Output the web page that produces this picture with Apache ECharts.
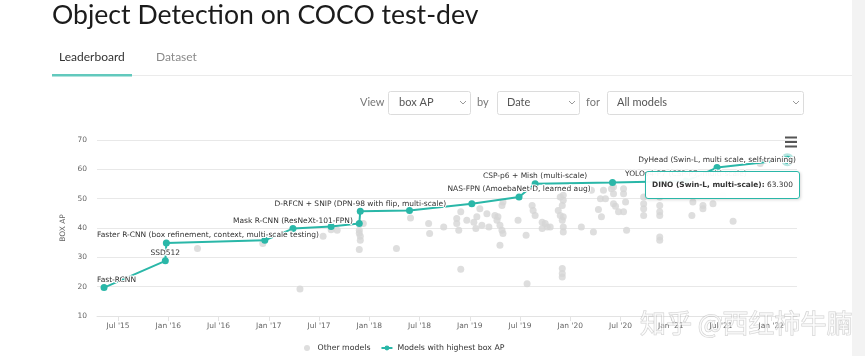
<!DOCTYPE html>
<html>
<head>
<meta charset="utf-8">
<script src="https://cdn.jsdelivr.net/npm/echarts@6/dist/echarts.min.js"></script>
<style>
html,body{margin:0;padding:0;background:#fff;}
#c{width:865px;height:356px;}
</style>
</head>
<body>
<div id="c"></div>
<script>
// ---- data (decimal year, box AP) ----
const bestNames = [
  "Fast-RCNN",
  "SSD512",
  "Faster R-CNN (box refinement, context, multi-scale testing)",
  "",
  "Mask R-CNN (ResNeXt-101-FPN)",
  "",
  "",
  "D-RFCN + SNIP (DPN-98 with flip, multi-scale)",
  "",
  "",
  "NAS-FPN (AmoebaNet-D, learned aug)",
  "CSP-p6 + Mish (multi-scale)",
  "",
  "YOLOv4-P7 (CSP-P7, multi-scale)",
  "DyHead (Swin-L, multi scale, self-training)",
  "DINO (Swin-L, multi-scale)"
];
const bestDates = [2015.36, 2015.97, 2015.98, 2016.96, 2017.24, 2017.62, 2017.90, 2017.91, 2018.40, 2019.02, 2019.49, 2019.65, 2020.42, 2021.15, 2021.46, 2022.16];
const bestAP    = [19.7, 28.8, 34.9, 35.8, 39.8, 40.5, 41.5, 45.7, 46.0, 48.3, 50.6, 55.1, 55.5, 56.0, 60.6, 63.3];

const otherDates = [
  2016.29, 2016.94, 2017.31, 2017.54, 2017.62, 2017.68,
  2017.90, 2017.90, 2017.91, 2017.91, 2017.90, 2017.94, 2018.27, 2018.41, 2018.59, 2018.60,
  2018.74, 2018.87, 2018.91, 2018.87, 2018.89, 2018.91, 2018.97, 2019.04, 2019.07, 2019.10,
  2019.17, 2019.12, 2019.19, 2019.25, 2019.27, 2019.30, 2019.28, 2019.32, 2019.33, 2019.30,
  2019.32, 2019.33, 2019.48, 2019.57, 2019.62, 2019.63, 2019.65, 2019.72, 2019.75, 2019.72,
  2019.80, 2019.88, 2019.90, 2019.92, 2019.93, 2019.93, 2019.92, 2019.93, 2019.93, 2019.92,
  2019.92, 2019.92, 2020.11, 2020.23, 2020.21, 2020.30, 2020.35, 2020.31, 2020.41, 2020.43,
  2020.43, 2020.45, 2020.48, 2020.53, 2020.53, 2020.55, 2020.53, 2020.56, 2020.28, 2020.33,
  2020.73, 2020.73, 2020.73, 2020.73, 2020.89, 2020.89, 2020.89, 2020.89, 2020.89, 2020.89,
  2021.22, 2021.21, 2021.32, 2021.32, 2021.52, 2021.62, 2021.42, 2021.89,
  2019.06, 2019.56, 2019.77, 2019.90, 2019.93, 2020.43
];
const otherAP = [
  33.0, 34.7, 19.2, 37.2, 39.4, 39.2,
  39.2, 38.2, 37.2, 35.8, 32.7, 41.5, 33.0, 43.4, 41.5, 38.1,
  40.3, 43.2, 45.5, 41.5, 39.2, 25.9, 42.6, 42.0, 43.8, 46.6,
  44.9, 40.9, 40.3, 44.3, 42.6, 40.9, 43.8, 39.2, 38.1, 34.1,
  47.7, 48.9, 42.6, 21.0, 47.7, 46.0, 44.3, 42.0, 41.5, 39.8,
  40.3, 46.0, 44.3, 47.7, 51.2, 49.5, 42.6, 40.3, 38.6, 26.2,
  24.5, 23.3, 40.3, 38.6, 52.9, 50.0, 50.0, 43.8, 53.4, 51.7,
  48.3, 47.4, 45.5, 53.4, 51.7, 48.9, 45.5, 39.2, 46.3, 52.9,
  50.6, 48.3, 46.6, 44.3, 50.6, 47.7, 45.5, 44.3, 36.9, 35.8,
  48.9, 44.3, 47.7, 46.6, 51.2, 42.3, 48.3, 62.0,
  39.8, 37.5, 40.3, 50.6, 43.8, 54.0
];

const tickValues = [2015.5, 2016, 2016.5, 2017, 2017.5, 2018, 2018.5, 2019, 2019.5, 2020, 2020.5, 2021, 2021.5, 2022];
const tickLabels = ["Jul '15", "Jan '16", "Jul '16", "Jan '17", "Jul '17", "Jan '18", "Jul '18", "Jan '19", "Jul '19", "Jan '20", "Jul '20", "Jan '21", "Jul '21", "Jan '22"];

const xMin = 2015.29, xMax = 2022.256;

// ---- build ----
const TEAL = '#2ab7a8';
const GRID_LEFT = 97;
const CF = '"DejaVu Sans", sans-serif';

const bestData = bestNames.map((n, i) => {
  const item = { name: n, value: [bestDates[i], bestAP[i]] };
  if (!n) item.label = { show: false };
  if (i === bestNames.length - 1) {
    item.label = { show: false };
    item.symbolSize = 8;
    item.itemStyle = { borderColor: 'rgba(42,183,168,0.35)', borderWidth: 5 };
  }
  return item;
});
const otherData = otherDates.map((d, i) => [d, otherAP[i]]);

const chart = echarts.init(document.getElementById('c'), null, { renderer: 'canvas' });

function txt(x, y, s, size, color, family, extra) {
  return {
    type: 'text', x: x, y: y, silent: true,
    style: Object.assign({ text: s, fontSize: size, fill: color, fontFamily: family, verticalAlign: 'middle', align: 'left' }, extra || {})
  };
}
function chevron(x, y) {
  return { type: 'polyline', silent: true, shape: { points: [[x, y], [x + 3, y + 3], [x + 6, y]] }, style: { stroke: '#999', lineWidth: 1, fill: null } };
}
function box(x, y, w, h) {
  return { type: 'rect', silent: true, shape: { x: x + 0.5, y: y + 0.5, width: w, height: h, r: 2 }, style: { fill: '#fff', stroke: '#dcdcdc', lineWidth: 1 } };
}

const LATO = 'Lato, sans-serif';
const graphics = [
  { type: 'rect', silent: true, shape: { x: 852, y: 0, width: 13, height: 356 }, style: { fill: '#f3f3f3' } },
  txt(52, 15, 'Object Detection on COCO test-dev', 26.6, '#1b1b1b', LATO),
  txt(59, 57, 'Leaderboard', 12, '#333', LATO),
  txt(156, 57, 'Dataset', 12, '#8a8a8a', LATO),
  { type: 'rect', silent: true, shape: { x: 52, y: 75, width: 800, height: 1 }, style: { fill: '#ebebeb' } },
  { type: 'rect', silent: true, shape: { x: 52, y: 74, width: 80, height: 2.5 }, style: { fill: '#62c9bd' } },
  txt(360, 102.5, 'View', 11, '#777', LATO),
  box(388, 91, 82, 23),
  txt(399, 102.5, 'box AP', 11, '#555', LATO),
  chevron(460, 101),
  txt(477, 102.5, 'by', 11, '#777', LATO),
  box(497, 91, 82, 23),
  txt(507, 102.5, 'Date', 11, '#555', LATO),
  chevron(569, 101),
  txt(586, 102.5, 'for', 11, '#777', LATO),
  box(607, 91, 196, 23),
  txt(617, 102.5, 'All models', 11, '#555', LATO),
  chevron(793, 101),
  { type: 'rect', silent: true, shape: { x: 785, y: 136.5, width: 12, height: 2 }, style: { fill: '#555' } },
  { type: 'rect', silent: true, shape: { x: 785, y: 141, width: 12, height: 2 }, style: { fill: '#555' } },
  { type: 'rect', silent: true, shape: { x: 785, y: 145.5, width: 12, height: 2 }, style: { fill: '#555' } },
  {
    type: 'text', silent: true, x: 640, y: 323, z: 100,
    style: {
      text: '知乎 @西红柿牛腩', fontSize: 26, fontFamily: '"Noto Sans CJK SC", sans-serif',
      fill: 'rgba(255,255,255,0.6)', stroke: 'rgba(120,120,120,0.35)', lineWidth: 1,
      verticalAlign: 'middle', align: 'left'
    }
  }
];

chart.setOption({
  animation: false,
  textStyle: { fontFamily: CF },
  grid: { left: GRID_LEFT, right: 68, top: 140, bottom: 40 },
  xAxis: {
    type: 'value', min: xMin, max: xMax,
    axisLine: { show: true, lineStyle: { color: '#e3e3e3' } },
    axisTick: { show: true, length: 5, customValues: tickValues, lineStyle: { color: '#e3e3e3' } },
    splitLine: { show: false },
    axisLabel: {
      customValues: tickValues, color: '#666', fontSize: 7.5, margin: 6, fontFamily: CF,
      formatter: v => { const k = tickValues.indexOf(v); return k >= 0 ? tickLabels[k] : ''; }
    }
  },
  yAxis: {
    type: 'value', min: 10, max: 70, interval: 10,
    name: 'BOX AP', nameLocation: 'middle', nameGap: 26,
    nameTextStyle: { color: '#666', fontSize: 7.5, fontFamily: CF },
    axisLine: { show: false }, axisTick: { show: false },
    axisLabel: { color: '#666', fontSize: 7.5, margin: 10, fontFamily: CF },
    splitLine: { lineStyle: { color: '#e8e8e8' } }
  },
  legend: {
    left: 304, top: 344, padding: 0, itemGap: 10, itemWidth: 11, itemHeight: 6,
    textStyle: { fontSize: 7.8, color: '#333', fontFamily: CF },
    data: ['Other models', 'Models with highest box AP']
  },
  tooltip: {
    trigger: 'item', triggerOn: 'none', alwaysShowContent: true, transitionDuration: 0,
    backgroundColor: 'rgba(255,255,255,0.95)', borderColor: TEAL, borderWidth: 1, borderRadius: 3,
    padding: [8, 6],
    textStyle: { fontSize: 7.4, color: '#333', fontFamily: CF, lineHeight: 10 },
    extraCssText: 'box-shadow: 1px 1px 3px rgba(0,0,0,0.15);',
    position: (point, params, dom, rect, size) => [point[0] - size.contentSize[0] + 13, point[1] + 11],
    formatter: p => '<b>' + p.name + ':</b> ' + Number(p.value[1]).toFixed(3)
  },
  series: [
    {
      name: 'Other models', type: 'scatter', data: otherData,
      symbolSize: 7, itemStyle: { color: '#d6d6d6' }, z: 2, silent: true
    },
    {
      name: 'Models with highest box AP', type: 'line', data: bestData,
      symbol: 'circle', symbolSize: 7, showSymbol: true,
      lineStyle: { color: TEAL, width: 2 }, itemStyle: { color: TEAL },
      z: 3,
      label: {
        show: true, position: 'top', distance: 0,
        formatter: p => p.name, color: '#333', fontSize: 7.5, fontFamily: CF,
        textBorderColor: '#fff', textBorderWidth: 2
      },
      labelLayout: params => {
        const r = params.labelRect;
        if (r && r.x < GRID_LEFT) {
          return { x: GRID_LEFT, y: r.y + r.height / 2, align: 'left', verticalAlign: 'middle' };
        }
      }
    }
  ],
  graphic: graphics
});

function showTip() {
  chart.dispatchAction({ type: 'showTip', seriesIndex: 1, dataIndex: bestAP.length - 1 });
}
showTip();
setTimeout(showTip, 0);
</script>
</body>
</html>
